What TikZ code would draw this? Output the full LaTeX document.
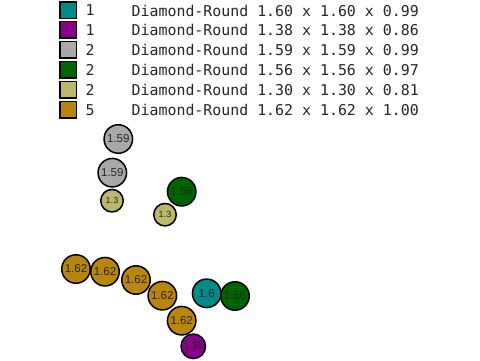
\documentclass[tikz,border=0pt]{standalone}
\usepackage{fontspec}
\setmainfont{Liberation Sans}
\newfontfamily\legfont{DejaVu Sans Mono}
\definecolor{cTeal}{HTML}{008B8B}
\definecolor{cMag}{HTML}{8B008B}
\definecolor{cGray}{HTML}{A9A9A9}
\definecolor{cGreen}{HTML}{006400}
\definecolor{cKhaki}{HTML}{BDB76B}
\definecolor{cGold}{HTML}{B8860B}
\begin{document}
\begin{tikzpicture}[x=1pt,y=-1pt,
  swatch/.style={draw=black, line width=1.5pt, minimum size=16.5pt, inner sep=0pt},
  legtext/.style={anchor=west, inner sep=0pt, font=\legfont\fontsize{14.9}{16}\selectfont, text=black!85},
  ball/.style={circle, draw=black, line width=1.5pt, inner sep=0pt, text=black!85},
  bigball/.style={ball, minimum size=28.5pt, font=\fontsize{11.5}{12}\selectfont},
  midball/.style={ball, minimum size=24.5pt, font=\fontsize{10}{11}\selectfont},
  smallball/.style={ball, minimum size=22.5pt, font=\fontsize{9}{10}\selectfont}]
\useasboundingbox (0,0) rectangle (480,360);
% legend
\foreach \i/\col/\n/\txt in {0/cTeal/1/{1.60 x 1.60 x 0.99},
                              1/cMag/1/{1.38 x 1.38 x 0.86},
                              2/cGray/2/{1.59 x 1.59 x 0.99},
                              3/cGreen/2/{1.56 x 1.56 x 0.97},
                              4/cKhaki/2/{1.30 x 1.30 x 0.81},
                              5/cGold/5/{1.62 x 1.62 x 1.00}}{
  \node[swatch, fill=\col] (sw\i) at (68, 10+19.9*\i) {};
  \node[legtext] (cnt\i) at (85.5, 10.5+19.9*\i) {\n};
  \node[legtext] (desc\i) at (131.5, 10.5+19.9*\i) {Diamond-Round \txt};
}
% circles
\node[bigball, fill=cGray] (g1) at (118.3,139) {1.59};
\node[bigball, fill=cGray] (g2) at (112.3,172.7) {1.59};
\node[smallball, fill=cKhaki] (k1) at (112,200.7) {1.3};
\node[bigball, fill=cGreen] (gr1) at (181.7,191.7) {1.56};
\node[smallball, fill=cKhaki] (k2) at (165,214.7) {1.3};
\node[bigball, fill=cGold] (o1) at (76,269) {1.62};
\node[bigball, fill=cGold] (o2) at (105,271.7) {1.62};
\node[bigball, fill=cGold] (o3) at (136,280) {1.62};
\node[bigball, fill=cGold] (o4) at (162.3,295.7) {1.62};
\node[bigball, fill=cGold] (o5) at (181.7,320.7) {1.62};
\node[midball, fill=cMag] (m1) at (193.3,346.3) {1.38};
\node[bigball, fill=cTeal] (t1) at (206.7,293.3) {1.6};
\node[bigball, fill=cGreen] (gr2) at (235,296) {1.56};
\end{tikzpicture}
\end{document}
